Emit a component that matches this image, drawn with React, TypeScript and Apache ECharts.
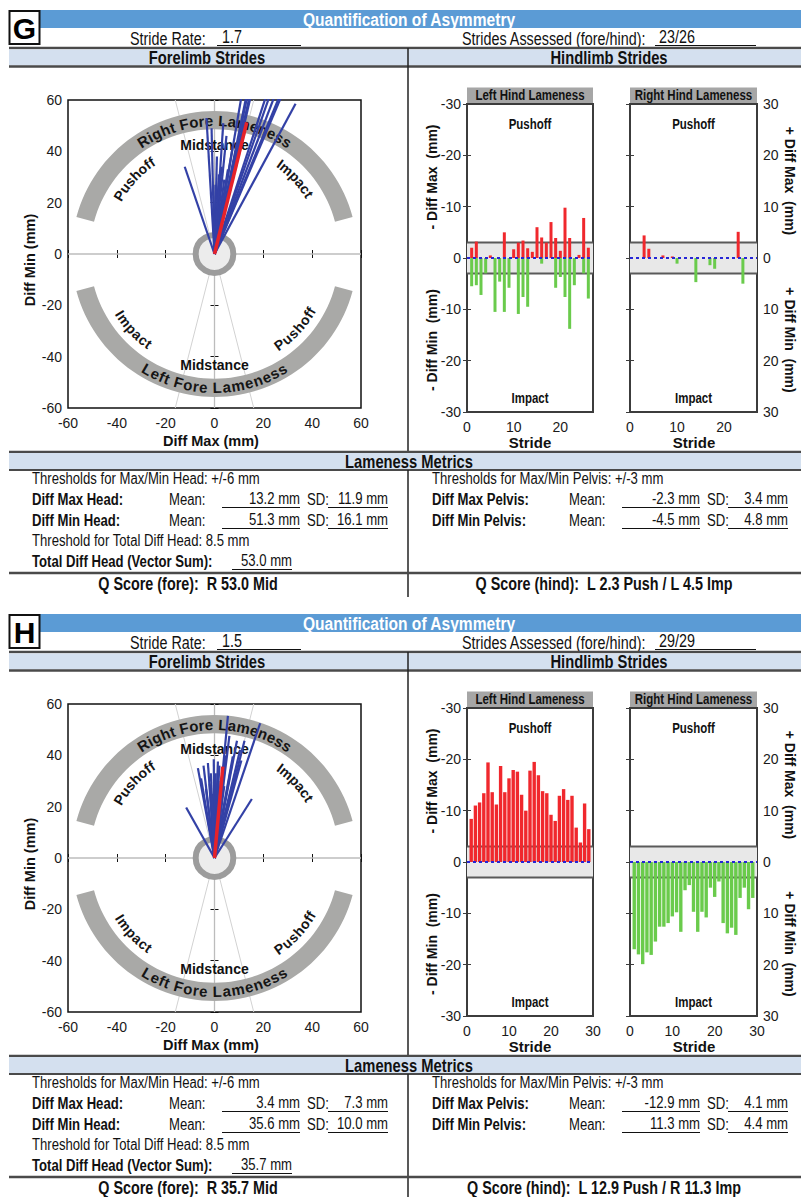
import React, { useEffect, useRef } from "react";
import * as echarts from "echarts";

// ================= Panel G data =================
const G_LABEL = "G";
const G_STRIDE_RATE = "1.7";
const G_STRIDES_ASSESSED = "23/26";
// fore strides: end point of each stride vector (Diff Max, Diff Min) in mm
const G_FORE_DIFF_MAX = [-12.2, -3.3, -1.2, 0.4, 1.0, 1.8, 2.9, 3.6, 4.9, 4.0, 5.5, 7.5, 12.6, 15.9, 15.3, 17.3, 16.9, 26.1, 27.5, 28.0, 31.2, 33.9, 33.2];
const G_FORE_DIFF_MIN = [34, 53, 49, 27, 38, 31, 34, 51, 46, 29, 33, 42, 70, 75, 70, 74, 70, 76, 75, 70, 72, 76, 58.5];
const G_FORE_MEAN = [13.2, 51.3];
// hind strides (mm magnitudes)
const G_LH_PUSHOFF = [2.0, 3.2, 0, 0, 0.5, 0, 0, 5.0, 0, 1.7, 3.0, 3.4, 1.9, 1.2, 6.0, 4.0, 3.0, 7.0, 3.9, 1.4, 9.8, 3.9, 0, 0.6, 7.8, 2.0];
const G_LH_IMPACT = [5.5, 5.3, 7.2, 3.0, 0, 10.5, 4.6, 10.5, 5.8, 0, 10.9, 7.6, 9.5, 0, 0, 1.1, 0, 0, 5.8, 3.7, 7.6, 13.8, 5.3, 0, 3.0, 7.9];
const G_RH_PUSHOFF = [0, 0, 4.4, 1.8, 0, 0, 0.5, 0, 0.3, 0, 0, 0, 0, 0, 0, 0, 0, 0, 0, 0, 0, 0, 5.1, 0, 0, 0];
const G_RH_IMPACT = [0, 0, 0, 0, 0, 0, 0, 0, 0, 1.1, 0, 0, 0, 4.7, 0, 0, 1.4, 2.1, 0, 0, 0, 0, 0, 5.0, 0, 0];
const G_HEAD_MEAN = ["13.2", "51.3"];
const G_HEAD_SD = ["11.9", "16.1"];
const G_HEAD_TOTAL = "53.0";
const G_PELVIS_MEAN = ["-2.3", "-4.5"];
const G_PELVIS_SD = ["3.4", "4.8"];
const G_Q_FORE = "R 53.0 Mid";
const G_Q_HIND = "L 2.3 Push / L 4.5 Imp";

// ================= Panel H data =================
const H_LABEL = "H";
const H_STRIDE_RATE = "1.5";
const H_STRIDES_ASSESSED = "29/29";
const H_FORE_DIFF_MAX = [-11.6, -6.8, -5.5, -4.5, -3.5, -2.7, -2.0, -1.0, -0.3, 0.5, 1.4, 2.0, 2.5, 3.0, 5.5, 6.1, 4.5, 7.0, 7.5, 9.2, 10.5, 12.3, 11.0, 18.7, 15.3, 8.5, 4.0, -1.5, 1.0];
const H_FORE_DIFF_MIN = [19.7, 35, 31, 36, 27, 37, 29, 25, 38.5, 33, 37.6, 36, 30, 22, 55.4, 47.6, 40, 36, 39.6, 45.7, 42.2, 45.7, 38, 52.5, 23, 33, 28, 33, 20];
const H_FORE_MEAN = [3.4, 35.6];
const H_LH_PUSHOFF = [8.4, 11.0, 11.6, 13.4, 19.4, 13.6, 11.2, 18.7, 13.6, 16.3, 17.9, 17.6, 13.1, 10.0, 17.8, 19.5, 16.9, 13.8, 13.4, 9.2, 8.0, 12.9, 14.2, 12.1, 12.9, 6.7, 3.8, 11.4, 6.4];
const H_LH_IMPACT = [0, 0, 0, 0, 0, 0, 0, 0, 0, 0, 0, 0, 0, 0, 0, 0, 0, 0, 0, 0, 0, 0, 0, 0, 0, 0, 0, 0, 0];
const H_RH_PUSHOFF = [0, 0, 0, 0, 0, 0, 0, 0, 0, 0, 0, 0, 0, 0, 0, 0, 0, 0, 0, 0, 0, 0, 0, 0, 0, 0, 0, 0, 0];
const H_RH_IMPACT = [17.0, 18.0, 19.9, 17.6, 18.1, 15.5, 12.6, 12.6, 11.9, 10.6, 9.8, 13.6, 5.5, 4.5, 9.7, 13.6, 9.7, 10.8, 5.0, 6.8, 3.8, 11.9, 13.9, 12.8, 14.2, 7.0, 5.0, 9.2, 7.0];
const H_HEAD_MEAN = ["3.4", "35.6"];
const H_HEAD_SD = ["7.3", "10.0"];
const H_HEAD_TOTAL = "35.7";
const H_PELVIS_MEAN = ["-12.9", "11.3"];
const H_PELVIS_SD = ["4.1", "4.4"];
const H_Q_FORE = "R 35.7 Mid";
const H_Q_HIND = "L 12.9 Push / R 11.3 Imp";

// ================= shared scales / thresholds =================
const FORE_AXIS = [-60, 60, 20];
const HIND_Y_AXIS = [-30, 30, 10];
const HIND_X_TICKS = [0, 10, 20, 30];
const HEAD_THRESHOLD = 6;
const PELVIS_THRESHOLD = 3;
const TOTAL_THRESHOLD = 8.5;

// ================= fonts =================
const AX_FONT = '"Liberation Sans", Arial, sans-serif';
const NARROW = (() => {
  try {
    const ctx = document.createElement("canvas").getContext("2d") as CanvasRenderingContext2D;
    const s = "Quantification of Asymmetry 0123456789";
    ctx.font = "20px monospace";
    const a = ctx.measureText(s).width;
    ctx.font = '20px "Liberation Sans Narrow", monospace';
    const b = ctx.measureText(s).width;
    if (Math.abs(a - b) > 0.5) return { family: '"Liberation Sans Narrow"', sx: 1 };
  } catch (e) {}
  return { family: '"Liberation Sans"', sx: 0.82 };
})();

let _ctx: any = null;
function measure(t: string, font: string) {
  if (!_ctx) _ctx = document.createElement("canvas").getContext("2d");
  _ctx.font = font;
  return _ctx.measureText(t).width;
}

function ntext(x: number, y: number, text: string, size: number, weight: string, align: string, color = "#111", extra: any = {}) {
  return {
    type: "text",
    x,
    y,
    scaleX: NARROW.sx,
    silent: true,
    style: {
      text,
      x: 0,
      y: 0,
      fill: color,
      font: `${weight} ${size}px ${NARROW.family}`,
      textAlign: align,
      textVerticalAlign: "middle",
      align,
      verticalAlign: "middle",
    },
    ...extra,
  };
}

function atext(x: number, y: number, text: string, size: number, weight: string, align: string, rotation = 0, color = "#111") {
  return {
    type: "text",
    x,
    y,
    rotation,
    silent: true,
    style: {
      text,
      x: 0,
      y: 0,
      fill: color,
      font: `${weight} ${size}px ${AX_FONT}`,
      textAlign: align,
      textVerticalAlign: "middle",
      align,
      verticalAlign: "middle",
    },
  };
}

function curvedText(cx: number, cy: number, r: number, centerDeg: number, text: string, font: string, spacing: number, upper: boolean) {
  const chars = text.split("");
  const ws = chars.map((ch) => measure(ch, font));
  const total = ws.reduce((a, b) => a + b, 0) + spacing * (ws.length - 1);
  const c = (centerDeg * Math.PI) / 180;
  const els: any[] = [];
  let o = 0;
  chars.forEach((ch, i) => {
    const w = ws[i];
    const mid = o + w / 2 - total / 2;
    const th = upper ? c - mid / r : c + mid / r;
    const x = cx + r * Math.cos(th);
    const y = cy - r * Math.sin(th);
    const rot = upper ? th - Math.PI / 2 : th - (3 * Math.PI) / 2;
    if (ch !== " ") {
      els.push({
        type: "text",
        x,
        y,
        rotation: rot,
        silent: true,
        style: { text: ch, x: 0, y: 0, font, fill: "#151515", textAlign: "center", textVerticalAlign: "middle", align: "center", verticalAlign: "middle" },
      });
    }
    o += w + spacing;
  });
  return els;
}

// ================= chart building =================
type Acc = { grid: any[]; xAxis: any[]; yAxis: any[]; series: any[]; graphic: any[] };

function addAxes(acc: Acc, box: number[], xr: number[], yr: number[], o: any) {
  const gi = acc.grid.length;
  acc.grid.push({ left: box[0], top: box[1], width: box[2], height: box[3], show: true, borderColor: o.border, borderWidth: o.bw, backgroundColor: "transparent" });
  const tick = (cv?: number[]) => ({ show: true, inside: true, length: 4, lineStyle: { color: o.border, width: 1 }, ...(cv ? { customValues: cv } : {}) });
  const lbl = (show: boolean, fmt: any, margin: number, cv?: number[]) => ({
    show,
    margin,
    fontSize: 14,
    color: "#1a1a1a",
    fontFamily: AX_FONT,
    formatter: fmt,
    ...(cv ? { customValues: cv } : {}),
  });
  const base = { type: "value", gridIndex: gi, axisLine: { show: false }, splitLine: { show: false }, axisPointer: { show: false } };
  const xi = acc.xAxis.length;
  acc.xAxis.push({ ...base, min: xr[0], max: xr[1], interval: xr[2], position: "bottom", axisTick: tick(o.xTicks), axisLabel: lbl(true, (v: number) => String(v), 8, o.xTicks) });
  acc.xAxis.push({ ...base, min: xr[0], max: xr[1], interval: xr[2], position: "top", axisTick: tick(o.xTicks), axisLabel: { show: false } });
  const yi = acc.yAxis.length;
  acc.yAxis.push({ ...base, min: yr[0], max: yr[1], interval: yr[2], position: "left", axisTick: tick(), axisLabel: o.yLeft ? lbl(true, o.yLeft, 6) : { show: false } });
  acc.yAxis.push({ ...base, min: yr[0], max: yr[1], interval: yr[2], position: "right", axisTick: tick(), axisLabel: o.yRight ? lbl(true, o.yRight, 6) : { show: false } });
  return { xi, yi };
}

function foreDecor(params: any, api: any) {
  const c = api.coord([0, 0]);
  const e = api.coord([60, 60]);
  const s = (c[1] - e[1]) / 60;
  const children: any[] = [];
  const seg = (p: number[], q: number[], col: string, lw: number) => ({ type: "line", silent: true, shape: { x1: p[0], y1: p[1], x2: q[0], y2: q[1] }, style: { stroke: col, lineWidth: lw } });
  children.push(seg(api.coord([-60, 0]), api.coord([60, 0]), "#bcbcbc", 1.3));
  children.push(seg(api.coord([0, -60]), api.coord([0, 60]), "#bcbcbc", 1.3));
  const t = Math.tan((15 * Math.PI) / 180) * 60;
  children.push(seg(api.coord([-t, -60]), api.coord([t, 60]), "#d2d2d2", 1));
  children.push(seg(api.coord([t, -60]), api.coord([-t, 60]), "#d2d2d2", 1));
  const arc = (a0: number, a1: number) => {
    const pts: number[][] = [];
    const ro = 55.7 * s;
    const ri = 48.6 * s;
    for (let k = 0; k <= 60; k++) {
      const a = ((a0 + ((a1 - a0) * k) / 60) * Math.PI) / 180;
      pts.push([c[0] + ro * Math.cos(a), c[1] - ro * Math.sin(a)]);
    }
    for (let k = 60; k >= 0; k--) {
      const a = ((a0 + ((a1 - a0) * k) / 60) * Math.PI) / 180;
      pts.push([c[0] + ri * Math.cos(a), c[1] - ri * Math.sin(a)]);
    }
    return { type: "polygon", silent: true, shape: { points: pts }, style: { fill: "#a9a9a7" } };
  };
  children.push(arc(15, 165));
  children.push(arc(195, 345));
  children.push({ type: "circle", silent: true, shape: { cx: c[0], cy: c[1], r: TOTAL_THRESHOLD * s - 3 }, style: { fill: "#ececec", stroke: "#9c9c9c", lineWidth: 6 } });
  const big = `bold 15px ${AX_FONT}`;
  const mid = `bold 14px ${AX_FONT}`;
  children.push(...curvedText(c[0], c[1], 52 * s, 90, "Right Fore Lameness", big, 0.5, true));
  children.push(...curvedText(c[0], c[1], 52 * s, 270, "Left Fore Lameness", big, 0.5, false));
  children.push(...curvedText(c[0], c[1], 43.5 * s, 137, "Pushoff", mid, 0.3, true));
  children.push(...curvedText(c[0], c[1], 43.5 * s, 43, "Impact", mid, 0.3, true));
  children.push(...curvedText(c[0], c[1], 43.5 * s, 223, "Impact", mid, 0.3, false));
  children.push(...curvedText(c[0], c[1], 43.5 * s, 317, "Pushoff", mid, 0.3, false));
  children.push(atext(c[0], c[1] - 42.4 * s, "Midstance", 14, "bold", "center"));
  children.push(atext(c[0], c[1] + 43.2 * s, "Midstance", 14, "bold", "center"));
  return { type: "group", children };
}

function hindDecor(title: string) {
  return (params: any, api: any) => {
    const xmax = api.value(0);
    const thr = api.value(1);
    const tl = api.coord([0, HIND_Y_AXIS[1]]);
    const br = api.coord([xmax, HIND_Y_AXIS[0]]);
    const yT = api.coord([0, thr])[1];
    const yB = api.coord([0, -thr])[1];
    const w = br[0] - tl[0];
    const mx = (tl[0] + br[0]) / 2;
    return {
      type: "group",
      children: [
        { type: "rect", silent: true, shape: { x: tl[0], y: yT, width: w, height: yB - yT }, style: { fill: "#e8e8e8" } },
        { type: "line", silent: true, shape: { x1: tl[0], y1: yT, x2: br[0], y2: yT }, style: { stroke: "#5a5a5a", lineWidth: 2 } },
        { type: "line", silent: true, shape: { x1: tl[0], y1: yB, x2: br[0], y2: yB }, style: { stroke: "#5a5a5a", lineWidth: 2 } },
        { type: "rect", silent: true, shape: { x: tl[0], y: tl[1] - 16.5, width: w, height: 15.5 }, style: { fill: "#a6a6a6" } },
        ntext(mx, tl[1] - 8.5, title, 14, "bold", "center"),
        ntext(mx, tl[1] + 20, "Pushoff", 14, "bold", "center"),
        ntext(mx, br[1] - 14, "Impact", 14, "bold", "center"),
      ],
    };
  };
}

function forePlot(acc: Acc, box: number[], dmax: number[], dmin: number[], mean: number[]) {
  const { xi, yi } = addAxes(acc, box, FORE_AXIS, FORE_AXIS, { border: "#111", bw: 1.5, yLeft: (v: number) => String(v) });
  acc.series.push({ type: "custom", xAxisIndex: xi, yAxisIndex: yi, z: 1, silent: true, data: [[0, 0]], renderItem: foreDecor });
  dmax.forEach((x, i) => {
    acc.series.push({
      type: "line",
      xAxisIndex: xi,
      yAxisIndex: yi,
      z: 2,
      silent: true,
      clip: true,
      symbol: "none",
      data: [[0, 0], [x, dmin[i]]],
      lineStyle: { color: "#3341a6", width: 2.2 },
    });
  });
  acc.series.push({ type: "line", xAxisIndex: xi, yAxisIndex: yi, z: 3, silent: true, clip: true, symbol: "none", data: [[0, 0], mean], lineStyle: { color: "#e6222a", width: 3.5 } });
}

function hindPlot(acc: Acc, box: number[], push: number[], imp: number[], title: string, left: boolean, bw: number) {
  const xmax = push.length + 1;
  const ticks = HIND_X_TICKS.filter((v) => v <= xmax);
  const { xi, yi } = addAxes(acc, box, [0, xmax, 10], HIND_Y_AXIS, {
    border: "#3c3c3c",
    bw: 2,
    xTicks: ticks,
    yLeft: left ? (v: number) => (v === 0 ? "0" : "-" + Math.abs(v)) : null,
    yRight: left ? null : (v: number) => String(Math.abs(v)),
  });
  acc.series.push({ type: "custom", xAxisIndex: xi, yAxisIndex: yi, z: 1, silent: true, data: [[xmax, PELVIS_THRESHOLD]], renderItem: hindDecor(title) });
  acc.series.push({ type: "bar", xAxisIndex: xi, yAxisIndex: yi, z: 2, silent: true, barWidth: bw, barGap: "-100%", data: push.map((v, i) => [i + 1, v]), itemStyle: { color: "#f0282d" } });
  acc.series.push({ type: "bar", xAxisIndex: xi, yAxisIndex: yi, z: 2, silent: true, barWidth: bw, barGap: "-100%", data: imp.map((v, i) => [i + 1, -v]), itemStyle: { color: "#6acb4c" } });
  acc.series.push({ type: "line", xAxisIndex: xi, yAxisIndex: yi, z: 3, silent: true, symbol: "none", data: [[0, 0], [xmax, 0]], lineStyle: { color: "#2626d6", width: 2, type: [3, 3] } });
}

function buildPanel(acc: Acc, P: any, oy: number) {
  const g = acc.graphic;
  const L = (x1: number, y1: number, x2: number, y2: number, lw: number, c = "#4a4a4a") =>
    g.push({ type: "line", silent: true, shape: { x1, y1: y1 + oy, x2, y2: y2 + oy }, style: { stroke: c, lineWidth: lw } });
  const R = (x: number, y: number, w: number, h: number, fill: string, stroke?: string, lw?: number) =>
    g.push({ type: "rect", silent: true, shape: { x, y: y + oy, width: w, height: h }, style: { fill, stroke, lineWidth: lw || 0 } });
  const T = (x: number, y: number, text: string, size: number, weight: string, align: string, color = "#111") => g.push(ntext(x, y + oy, text, size, weight, align, color));

  // header
  R(40, 10, 761, 18, "#5b9bd5");
  T(409, 19, "Quantification of Asymmetry", 19, "bold", "center", "#ffffff");
  R(9.5, 11, 30, 33, "#ffffff", "#111", 2);
  g.push(atext(24.5, 28 + oy, P.label, 30, "bold", "center", 0, "#000"));
  T(130, 38.5, "Stride Rate:", 17.5, "normal", "left");
  T(222, 37, P.strideRate, 17.5, "normal", "left");
  L(217, 45.5, 301, 45.5, 1, "#111");
  T(462, 38.5, "Strides Assessed (fore/hind):", 17.5, "normal", "left");
  T(659, 37, P.strides, 17.5, "normal", "left");
  L(655, 45.5, 756, 45.5, 1, "#111");
  L(9, 48, 801, 48, 2.5);
  R(9, 49.5, 792, 16, "#d4e0ef");
  T(207, 57.5, "Forelimb Strides", 18, "bold", "center");
  T(609, 57.5, "Hindlimb Strides", 18, "bold", "center");
  L(9, 66.5, 801, 66.5, 2.5);
  L(408, 48, 408, 452, 1.5, "#222");

  // metrics
  L(9, 452, 801, 452, 2.5);
  R(9, 453, 792, 16, "#d4e0ef");
  T(409, 461, "Lameness Metrics", 18, "bold", "center");
  L(9, 470, 801, 470, 2);
  L(408, 470, 408, 597, 1.5, "#222");
  T(32, 479, `Thresholds for Max/Min Head: +/-${HEAD_THRESHOLD} mm`, 16, "normal", "left");
  T(432, 479, `Thresholds for Max/Min Pelvis: +/-${PELVIS_THRESHOLD} mm`, 16, "normal", "left");
  const rowsY = [500, 521];
  const headLabels = ["Diff Max Head:", "Diff Min Head:"];
  const pelvisLabels = ["Diff Max Pelvis:", "Diff Min Pelvis:"];
  rowsY.forEach((y, i) => {
    [0, 400].forEach((dx, side) => {
      T(32 + dx, y, side === 0 ? headLabels[i] : pelvisLabels[i], 16, "bold", "left");
      T(169 + dx, y, "Mean:", 16, "normal", "left");
      L(222 + dx, y + 7.5, 300 + dx, y + 7.5, 1, "#111");
      T(300 + dx, y - 1, `${side === 0 ? P.headMean[i] : P.pelvisMean[i]} mm`, 16, "normal", "right");
      T(307 + dx, y, "SD:", 16, "normal", "left");
      L(328 + dx, y + 7.5, 388 + dx, y + 7.5, 1, "#111");
      T(388 + dx, y - 1, `${side === 0 ? P.headSd[i] : P.pelvisSd[i]} mm`, 16, "normal", "right");
    });
  });
  T(32, 541, `Threshold for Total Diff Head: ${TOTAL_THRESHOLD} mm`, 16, "normal", "left");
  T(32, 562, "Total Diff Head (Vector Sum):", 16, "bold", "left");
  L(232, 569.5, 292, 569.5, 1, "#111");
  T(292, 561, `${P.headTotal} mm`, 16, "normal", "right");
  L(9, 573, 801, 573, 2.5);
  T(188, 583.5, `Q Score (fore):  ${P.qFore}`, 17.5, "bold", "center");
  T(604, 583.5, `Q Score (hind):  ${P.qHind}`, 17.5, "bold", "center");

  // plots
  forePlot(acc, [68, 100 + oy, 293, 308], P.foreMax, P.foreMin, P.foreMean);
  hindPlot(acc, [467, 104 + oy, 126, 308], P.lhPush, P.lhImp, "Left Hind Lameness", true, P.barW);
  hindPlot(acc, [630, 104 + oy, 127, 308], P.rhPush, P.rhImp, "Right Hind Lameness", false, P.barW);

  // axis titles
  g.push(atext(211, 441 + oy, "Diff Max (mm)", 14.5, "bold", "center"));
  g.push(atext(30, 260 + oy, "Diff Min (mm)", 14.5, "bold", "center", Math.PI / 2));
  g.push(atext(530, 442 + oy, "Stride", 15, "bold", "center"));
  g.push(atext(694, 442 + oy, "Stride", 15, "bold", "center"));
  g.push(atext(432, 177 + oy, "- Diff Max  (mm)", 14, "bold", "center", Math.PI / 2));
  g.push(atext(432, 340 + oy, "- Diff Min  (mm)", 14, "bold", "center", Math.PI / 2));
  g.push(atext(790, 181 + oy, "+ Diff Max  (mm)", 14, "bold", "center", -Math.PI / 2));
  g.push(atext(790, 340 + oy, "+ Diff Min  (mm)", 14, "bold", "center", -Math.PI / 2));
}

function buildOption() {
  const acc: Acc = { grid: [], xAxis: [], yAxis: [], series: [], graphic: [] };
  buildPanel(
    acc,
    {
      label: G_LABEL,
      strideRate: G_STRIDE_RATE,
      strides: G_STRIDES_ASSESSED,
      foreMax: G_FORE_DIFF_MAX,
      foreMin: G_FORE_DIFF_MIN,
      foreMean: G_FORE_MEAN,
      lhPush: G_LH_PUSHOFF,
      lhImp: G_LH_IMPACT,
      rhPush: G_RH_PUSHOFF,
      rhImp: G_RH_IMPACT,
      headMean: G_HEAD_MEAN,
      headSd: G_HEAD_SD,
      headTotal: G_HEAD_TOTAL,
      pelvisMean: G_PELVIS_MEAN,
      pelvisSd: G_PELVIS_SD,
      qFore: G_Q_FORE,
      qHind: G_Q_HIND,
      barW: 3,
    },
    0
  );
  buildPanel(
    acc,
    {
      label: H_LABEL,
      strideRate: H_STRIDE_RATE,
      strides: H_STRIDES_ASSESSED,
      foreMax: H_FORE_DIFF_MAX,
      foreMin: H_FORE_DIFF_MIN,
      foreMean: H_FORE_MEAN,
      lhPush: H_LH_PUSHOFF,
      lhImp: H_LH_IMPACT,
      rhPush: H_RH_PUSHOFF,
      rhImp: H_RH_IMPACT,
      headMean: H_HEAD_MEAN,
      headSd: H_HEAD_SD,
      headTotal: H_HEAD_TOTAL,
      pelvisMean: H_PELVIS_MEAN,
      pelvisSd: H_PELVIS_SD,
      qFore: H_Q_FORE,
      qHind: H_Q_HIND,
      barW: 3.4,
    },
    604
  );
  return {
    animation: false,
    backgroundColor: "#ffffff",
    textStyle: { fontFamily: AX_FONT },
    grid: acc.grid,
    xAxis: acc.xAxis,
    yAxis: acc.yAxis,
    series: acc.series,
    graphic: { elements: acc.graphic },
  };
}

export default function App() {
  const ref = useRef<HTMLDivElement>(null);
  useEffect(() => {
    if (!ref.current) return;
    const chart = echarts.init(ref.current, null, { renderer: "svg", width: 801, height: 1197 });
    chart.setOption(buildOption() as any);
    return () => chart.dispose();
  }, []);
  return <div ref={ref} style={{ position: "absolute", left: 0, top: 0, width: 801, height: 1197, background: "#fff" }} />;
}
